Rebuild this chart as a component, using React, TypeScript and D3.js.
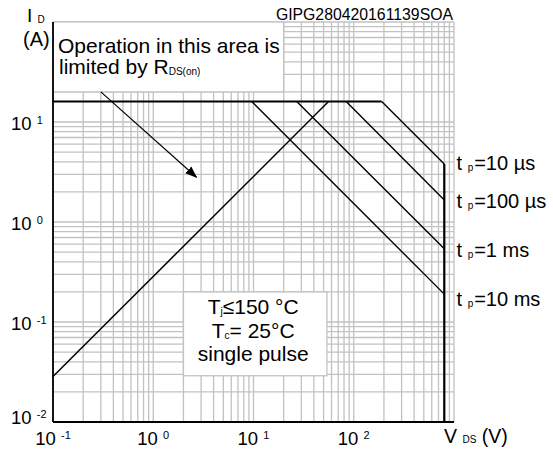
import React, { useRef, useEffect } from "react";
import * as d3 from "d3";

// safe operating area
const pulseLabels = ["10 µs", "100 µs", "1 ms", "10 ms"];
const kneeVoltage = [190, 84, 27, 9.6]; // V where each curve leaves the Idm limit
const endCurrent = [3.8, 1.66, 0.54, 0.19]; // A at VDS max
const idMax = 16;
const vdsMax = 800;
const rdsLimit: [number, number][] = [
    [0.1, 0.0285],
    [56, 16],
];
const xTickValues = [0.1, 1, 10, 100];
const xTickExp = ["-1", "0", "1", "2"];
const yTickValues = [0.01, 0.1, 1, 10];
const yTickExp = ["-2", "-1", "0", "1"];

const FONT = "Liberation Sans, Arial, Helvetica, sans-serif";
const GRID = "#c2c2c2";

export const SoaChart = () => {
    const svgRef = useRef<SVGSVGElement>(null);

    useEffect(() => {
        if (!svgRef.current) return;
        const svg = d3.select(svgRef.current);
        svg.selectAll("*").remove();

        const width = 553;
        const height = 452;
        const margin = { top: 22, right: 99, bottom: 30, left: 53 };

        const x = d3
            .scaleLog()
            .domain([0.1, 1000])
            .range([margin.left, width - margin.right]);
        const y = d3
            .scaleLog()
            .domain([0.01, 100])
            .range([height - margin.bottom, margin.top]);

        const [x0, x1] = x.range();
        const [y0, y1] = y.range();

        // grid
        const xGrid: number[] = [];
        for (let d = -1; d < 3; d++)
            for (let k = 1; k < 10; k++) xGrid.push(k * Math.pow(10, d));
        xGrid.push(1000);
        const yGrid: number[] = [];
        for (let d = -2; d < 2; d++)
            for (let k = 1; k < 10; k++) yGrid.push(k * Math.pow(10, d));
        yGrid.push(100);

        const grid = svg.append("g").attr("stroke", GRID).attr("stroke-width", 1.3);
        grid.selectAll(".gx")
            .data(xGrid)
            .enter()
            .append("line")
            .attr("x1", (d) => x(d))
            .attr("x2", (d) => x(d))
            .attr("y1", y0)
            .attr("y2", y1);
        grid.selectAll(".gy")
            .data(yGrid)
            .enter()
            .append("line")
            .attr("x1", x0)
            .attr("x2", x1)
            .attr("y1", (d) => y(d))
            .attr("y2", (d) => y(d));

        // annotation boxes
        svg.append("rect")
            .attr("x", x(0.1))
            .attr("y", y(100))
            .attr("width", x(20) - x(0.1))
            .attr("height", y(20) - y(100))
            .attr("fill", "#fff")
            .attr("stroke", GRID)
            .attr("stroke-width", 1.3);
        const bx0 = x(2);
        const bx1 = x(54);
        const by0 = y(0.2);
        const by1 = y(0.029);
        svg.append("rect")
            .attr("x", bx0)
            .attr("y", by0)
            .attr("width", bx1 - bx0)
            .attr("height", by1 - by0)
            .attr("fill", "#fff")
            .attr("stroke", GRID)
            .attr("stroke-width", 1.3);

        const line = d3
            .line<[number, number]>()
            .x((d) => x(d[0]))
            .y((d) => y(d[1]));

        // Idm limit
        svg.append("path")
            .attr("d", line([
                [0.1, idMax],
                [d3.max(kneeVoltage) as number, idMax],
            ]))
            .attr("stroke", "#000")
            .attr("stroke-width", 2)
            .attr("fill", "none");

        // RDS(on) limit
        svg.append("path")
            .attr("d", line(rdsLimit))
            .attr("stroke", "#000")
            .attr("stroke-width", 1.5)
            .attr("fill", "none");

        // pulse curves
        svg.selectAll(".pulse")
            .data(kneeVoltage)
            .enter()
            .append("path")
            .attr("d", (v, i) => line([
                [v, idMax],
                [vdsMax, endCurrent[i]],
            ]))
            .attr("stroke", "#000")
            .attr("stroke-width", 1.4)
            .attr("fill", "none");

        // VDS max
        svg.append("path")
            .attr("d", line([
                [vdsMax, endCurrent[0]],
                [vdsMax, 0.01],
            ]))
            .attr("stroke", "#000")
            .attr("stroke-width", 2.2)
            .attr("fill", "none");

        // arrow
        svg.append("defs")
            .append("marker")
            .attr("id", "arrowHead")
            .attr("markerUnits", "userSpaceOnUse")
            .attr("viewBox", "0 -5 12 10")
            .attr("refX", 11)
            .attr("refY", 0)
            .attr("markerWidth", 12)
            .attr("markerHeight", 10)
            .attr("orient", "auto")
            .append("path")
            .attr("d", "M0,-4.5L12,0L0,4.5Z")
            .attr("fill", "#000");
        svg.append("path")
            .attr("d", line([
                [0.3, 20],
                [2.7, 2.8],
            ]))
            .attr("stroke", "#000")
            .attr("stroke-width", 1.2)
            .attr("fill", "none")
            .attr("marker-end", "url(#arrowHead)");

        // axes
        svg.append("line")
            .attr("x1", x0).attr("x2", x0)
            .attr("y1", y0).attr("y2", y1)
            .attr("stroke", "#000").attr("stroke-width", 1.8);
        svg.append("line")
            .attr("x1", x0).attr("x2", x1)
            .attr("y1", y0).attr("y2", y0)
            .attr("stroke", "#000").attr("stroke-width", 1.8);

        const txt = svg.append("g").attr("font-family", FONT).attr("fill", "#000");

        // x tick labels
        xTickValues.forEach((v, i) => {
            const t = txt.append("text")
                .attr("x", x(v))
                .attr("y", 445)
                .attr("text-anchor", "middle")
                .attr("font-size", 18.5);
            t.append("tspan").text("10 ");
            t.append("tspan").attr("font-size", 11).attr("dy", -6.5).text(xTickExp[i]);
        });

        // y tick labels
        yTickValues.forEach((v, i) => {
            const t = txt.append("text")
                .attr("x", 11)
                .attr("y", y(v) + (i === 0 ? 1.5 : 8))
                .attr("font-size", 18.5);
            t.append("tspan").text("10 ");
            t.append("tspan").attr("font-size", 11).attr("dy", -6).text(yTickExp[i]);
        });

        // axis titles
        const idT = txt.append("text").attr("x", 27).attr("y", 22).attr("font-size", 19);
        idT.append("tspan").text("I ");
        idT.append("tspan").attr("font-size", 10).attr("dy", 1).text("D");
        txt.append("text").attr("x", 23).attr("y", 46).attr("font-size", 20).text("(A)");

        const vdsT = txt.append("text").attr("x", 444).attr("y", 443).attr("font-size", 19.5);
        vdsT.append("tspan").text("V ");
        vdsT.append("tspan").attr("font-size", 10).text("DS");
        vdsT.append("tspan").text(" (V)");

        txt.append("text")
            .attr("x", 453)
            .attr("y", 20)
            .attr("text-anchor", "end")
            .attr("font-size", 15.8)
            .text("GIPG280420161139SOA");

        // pulse labels
        const labelNudge = [6, 8, 8, 12];
        pulseLabels.forEach((s, i) => {
            const t = txt.append("text")
                .attr("x", 456.5)
                .attr("y", y(endCurrent[i]) + labelNudge[i])
                .attr("font-size", 20);
            t.append("tspan").text("t ");
            t.append("tspan").attr("font-size", 10).attr("dy", 1).text("p");
            t.append("tspan").attr("dy", -1).attr("dx", 1).text("=" + s);
        });

        // R_DS(on) note
        txt.append("text")
            .attr("x", 58).attr("y", 53).attr("font-size", 21)
            .text("Operation in this area is");
        const lim = txt.append("text").attr("x", 59).attr("y", 74).attr("font-size", 21);
        lim.append("tspan").text("limited by R");
        lim.append("tspan").attr("font-size", 10).attr("dy", 1).text("DS(on)");

        // conditions
        const cx = (bx0 + bx1) / 2 - 2;
        const c1 = txt.append("text").attr("x", cx).attr("y", by0 + 22.3)
            .attr("text-anchor", "middle").attr("font-size", 21);
        c1.append("tspan").text("T");
        c1.append("tspan").attr("font-size", 10).attr("dy", 1).text("j");
        c1.append("tspan").attr("dy", -1).text("≤150 °C");
        const c2 = txt.append("text").attr("x", cx).attr("y", by0 + 46.6)
            .attr("text-anchor", "middle").attr("font-size", 21);
        c2.append("tspan").text("T");
        c2.append("tspan").attr("font-size", 10).attr("dy", 1).text("c");
        c2.append("tspan").attr("dy", -1).text("= 25°C");
        txt.append("text").attr("x", cx).attr("y", by0 + 69)
            .attr("text-anchor", "middle").attr("font-size", 21)
            .text("single pulse");

        svg.attr("width", width).attr("height", height);
    }, []);

    return (
        <svg
            ref={svgRef}
            style={{ position: "absolute", left: 0, top: 0, display: "block", background: "#fff" }}
        />
    );
};

export default function App() {
    return <SoaChart />;
}
